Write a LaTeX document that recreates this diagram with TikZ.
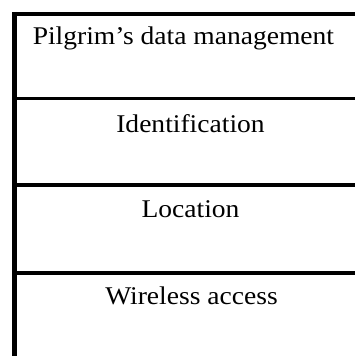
\documentclass[tikz,border=0pt]{standalone}
\usepackage{fontspec}
\setmainfont[FakeStretch=1.08]{Liberation Serif}
\begin{document}
\begin{tikzpicture}[x=1pt,y=1pt,line width=3.5pt,
  layer/.style={anchor=base,inner sep=0pt,font=\fontsize{25.5}{30}\selectfont}]
\useasboundingbox (0,0) rectangle (355,356);

% Frame
\draw[line width=4.5pt] (14.5,344) -- (14.5,0);
\draw[line width=4.5pt] (12.5,342) -- (355,342);
\draw (14.5,257.5) -- (355,257.5);
\draw (14.5,171) -- (355,171);
\draw (14.5,83) -- (355,83);

% Layers
\node[layer,anchor=base west] (data) at (31,311) {Pilgrim’s data management};
\node[layer] (ident) at (190.5,223) {Identification};
\node[layer] (loc) at (190.5,138) {Location};
\node[layer] (wireless) at (191.5,51) {Wireless access};
\end{tikzpicture}
\end{document}
